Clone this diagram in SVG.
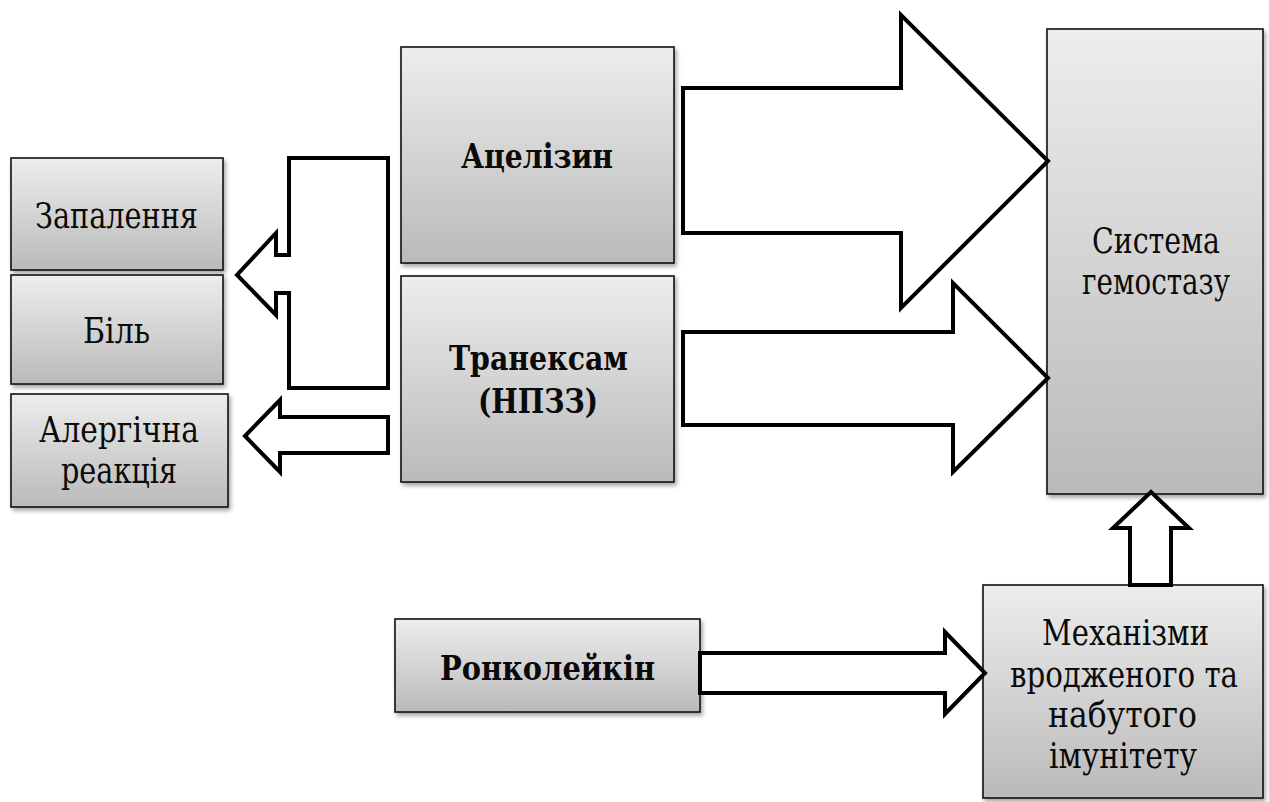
<svg xmlns="http://www.w3.org/2000/svg" width="1269" height="802" viewBox="0 0 1269 802">
  <defs>
    <linearGradient id="boxFill" x1="0" y1="0" x2="0" y2="1">
      <stop offset="0" stop-color="#ededed"/>
      <stop offset="1" stop-color="#bababa"/>
    </linearGradient>
    <filter id="shadow" x="-10%" y="-10%" width="130%" height="130%">
      <feDropShadow dx="2" dy="3" stdDeviation="2" flood-color="#000" flood-opacity="0.35"/>
    </filter>
  </defs>
  <style>
    .box { fill: url(#boxFill); stroke: #111; stroke-width: 1.6; filter: url(#shadow); }
    .arrow { fill: #fff; stroke: #000; stroke-width: 4; stroke-linejoin: miter; stroke-miterlimit: 10; }
    text { font-family: 'DejaVu Serif Condensed', 'DejaVu Serif', 'Liberation Serif', serif; font-stretch: condensed; font-size: 35px; fill: #0a0a0a; text-anchor: middle; }
    .b { font-weight: bold; font-size: 34px; }
  </style>
  <rect width="1269" height="802" fill="#fff"/>

  <!-- effect nodes on the left -->
  <g id="node-zapalennia">
    <rect class="box" x="11" y="158" width="212" height="112"/>
    <text x="116.5" y="228" textLength="163" lengthAdjust="spacingAndGlyphs">Запалення</text>
  </g>
  <g id="node-bil">
    <rect class="box" x="11" y="275" width="212" height="109"/>
    <text x="116.5" y="343" textLength="67" lengthAdjust="spacingAndGlyphs">Біль</text>
  </g>
  <g id="node-alergiia">
    <rect class="box" x="11" y="394" width="217" height="113"/>
    <text x="119" y="442" textLength="160" lengthAdjust="spacingAndGlyphs">Алергічна</text>
    <text x="119" y="483" textLength="116" lengthAdjust="spacingAndGlyphs">реакція</text>
  </g>

  <!-- drug nodes -->
  <g id="node-atselizyn">
    <rect class="box" x="401" y="47" width="273" height="216"/>
    <text class="b" x="537" y="168" textLength="152" lengthAdjust="spacingAndGlyphs">Ацелізин</text>
  </g>
  <g id="node-traneksam">
    <rect class="box" x="401" y="276" width="273" height="206"/>
    <text class="b" x="538.5" y="370" textLength="179" lengthAdjust="spacingAndGlyphs">Транексам</text>
    <text class="b" x="538" y="413" textLength="120" lengthAdjust="spacingAndGlyphs">(НПЗЗ)</text>
  </g>
  <g id="node-ronkoleikin">
    <rect class="box" x="395" y="619" width="305" height="93"/>
    <text class="b" x="547.5" y="680" textLength="215" lengthAdjust="spacingAndGlyphs">Ронколейкін</text>
  </g>

  <!-- target nodes on the right -->
  <g id="node-hemostaz">
    <rect class="box" x="1047" y="29" width="216" height="465"/>
    <text x="1156" y="253" textLength="128" lengthAdjust="spacingAndGlyphs">Система</text>
    <text x="1156" y="294" textLength="148" lengthAdjust="spacingAndGlyphs">гемостазу</text>
  </g>
  <g id="node-imunitet">
    <rect class="box" x="983" y="585" width="280" height="213"/>
    <text x="1125.5" y="645" textLength="167" lengthAdjust="spacingAndGlyphs">Механізми</text>
    <text x="1124" y="687" textLength="228" lengthAdjust="spacingAndGlyphs">вродженого та</text>
    <text x="1122.5" y="727" textLength="149" lengthAdjust="spacingAndGlyphs">набутого</text>
    <text x="1123" y="768" textLength="148" lengthAdjust="spacingAndGlyphs">імунітету</text>
  </g>

  <!-- block arrows -->
  <g id="connectors">
    <polygon class="arrow" points="289,158 388,158 388,388 289,388 289,293 276,293 276,315 237,275 276,233 276,255 289,255"/>
    <polygon class="arrow" points="388,417 388,453 280,453 280,472 245,436 280,400 280,417"/>
    <polygon class="arrow" points="683,88 901,88 901,15 1048,161 901,308 901,233 683,233"/>
    <polygon class="arrow" points="683,332 953,332 953,283 1048,378 953,472 953,425 683,425"/>
    <polygon class="arrow" points="700,653 945,653 945,632 985,673 945,714 945,693 700,693"/>
    <polygon class="arrow" points="1130,585 1130,528 1113,528 1151,492 1189,528 1171,528 1171,585"/>
  </g>
</svg>
